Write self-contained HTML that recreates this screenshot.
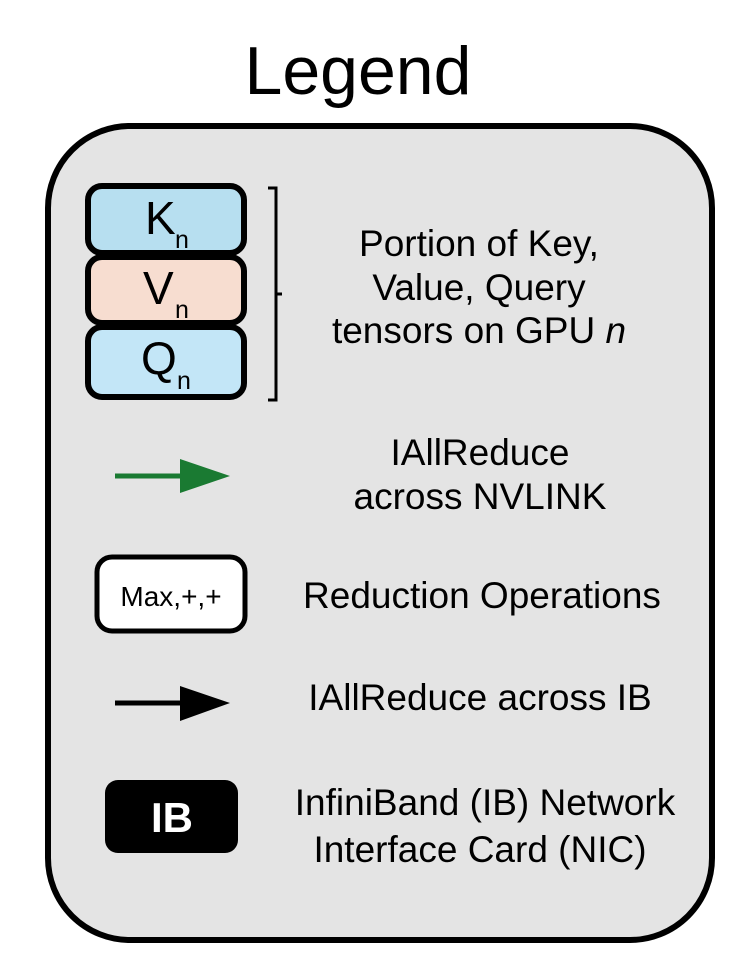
<!DOCTYPE html>
<html><head><meta charset="utf-8"><style>html,body{margin:0;padding:0;background:#fff}</style></head>
<body>
<svg width="741" height="968" viewBox="0 0 741 968" xmlns="http://www.w3.org/2000/svg" font-family="Liberation Sans, Arial, sans-serif">
<text x="358" y="94" font-size="68" text-anchor="middle" fill="#000">Legend</text>
<rect x="48" y="126" width="664" height="814" rx="82" fill="#e4e4e4" stroke="#000" stroke-width="6"/>
<rect x="88" y="186" width="156" height="67" rx="14" fill="#b7dff0" stroke="#000" stroke-width="6"/>
<rect x="88" y="257" width="156" height="66" rx="14" fill="#f7ddd0" stroke="#000" stroke-width="6"/>
<rect x="88" y="327" width="156" height="70" rx="14" fill="#c3e6f7" stroke="#000" stroke-width="6"/>
<text x="145" y="234" font-size="46" fill="#000">K</text><text x="175" y="248" font-size="25">n</text>
<text x="143" y="304" font-size="46" fill="#000">V</text><text x="175" y="318" font-size="25">n</text>
<text x="141" y="374" font-size="46" fill="#000">Q</text><text x="177" y="389" font-size="25">n</text>
<path d="M268 188 H276 V400 H268 M276 294 H282" fill="none" stroke="#000" stroke-width="3"/>
<g font-size="37" text-anchor="middle" fill="#000">
<text x="479" y="256">Portion of Key,</text>
<text x="479" y="300">Value, Query</text>
<text x="479" y="343">tensors on GPU <tspan font-style="italic">n</tspan></text>
<text x="480" y="465">IAllReduce</text>
<text x="480" y="509">across NVLINK</text>
<text x="482" y="608">Reduction Operations</text>
<text x="480" y="710">IAllReduce across IB</text>
<text x="485" y="815">InfiniBand (IB) Network</text>
<text x="480" y="862">Interface Card (NIC)</text>
</g>
<line x1="115" y1="476" x2="185" y2="476" stroke="#1a7a32" stroke-width="5"/>
<polygon points="180,459 230,476 180,493" fill="#1a7a32"/>
<rect x="97" y="557" width="148" height="74" rx="15" fill="#fff" stroke="#000" stroke-width="5"/>
<text x="171" y="606" font-size="28" text-anchor="middle">Max,+,+</text>
<line x1="115" y1="703" x2="185" y2="703" stroke="#000" stroke-width="5"/>
<polygon points="180,686 230,703 180,721" fill="#000"/>
<rect x="105" y="780" width="133" height="73" rx="13" fill="#000"/>
<text x="172" y="832" font-size="42" font-weight="bold" text-anchor="middle" fill="#fff">IB</text>
</svg>
</body></html>
